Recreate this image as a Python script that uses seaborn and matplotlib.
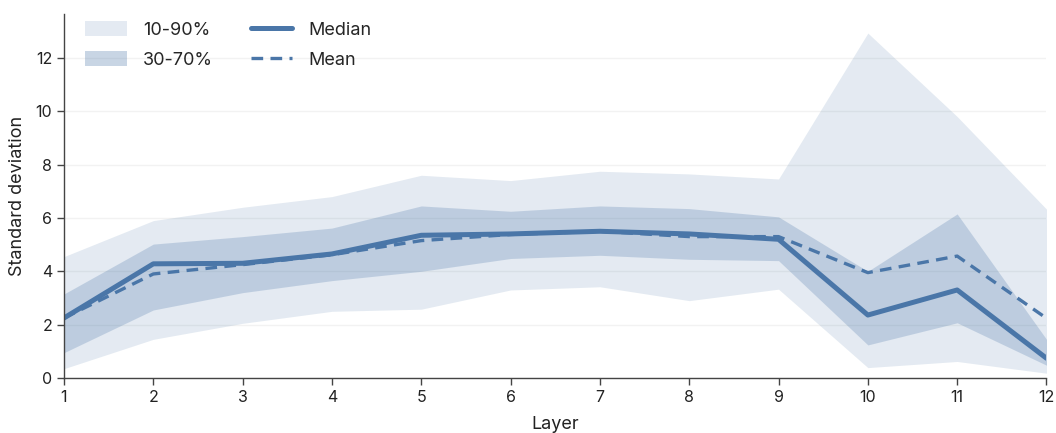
import matplotlib.pyplot as plt
import seaborn as sns
import pandas as pd
from matplotlib.patches import Patch
from matplotlib.lines import Line2D

# Values
layers = [1, 2, 3, 4, 5, 6, 7, 8, 9, 10, 11, 12]
p10 = [0.35, 1.45, 2.05, 2.50, 2.58, 3.30, 3.42, 2.90, 3.33, 0.39, 0.62, 0.18]
p30 = [0.95, 2.55, 3.20, 3.65, 4.00, 4.48, 4.60, 4.45, 4.40, 1.24, 2.07, 0.48]
median = [2.25, 4.28, 4.30, 4.65, 5.35, 5.40, 5.50, 5.40, 5.20, 2.36, 3.30, 0.74]
mean = [2.25, 3.90, 4.25, 4.62, 5.15, 5.38, 5.50, 5.30, 5.30, 3.95, 4.57, 2.24]
p70 = [3.15, 5.02, 5.30, 5.62, 6.45, 6.25, 6.45, 6.35, 6.04, 4.00, 6.15, 1.45]
p90 = [4.55, 5.90, 6.40, 6.80, 7.60, 7.40, 7.75, 7.65, 7.46, 12.93, 9.80, 6.33]

df = pd.DataFrame({"Layer": layers, "p10": p10, "p30": p30, "Median": median,
                   "Mean": mean, "p70": p70, "p90": p90})

sns.set_style("white")
plt.rcParams["font.family"] = ["Inter", "DejaVu Sans"]

blue = "#4a76a8"
fig = plt.figure(figsize=(10.56, 4.33), dpi=100)
ax = fig.add_axes([0.0606, 0.127, 0.9304, 0.841])

ax.fill_between(df["Layer"], df["p10"], df["p90"], color=blue, alpha=0.15, lw=0)
ax.fill_between(df["Layer"], df["p30"], df["p70"], color=blue, alpha=0.25, lw=0)
sns.lineplot(data=df, x="Layer", y="Median", color=blue, lw=3.6, ax=ax)
sns.lineplot(data=df, x="Layer", y="Mean", color=blue, lw=2.4, ax=ax,
             linestyle=(0, (3.5, 2.2)))

ax.set_xlim(1, 12)
ax.set_ylim(0, 13.65)
ax.set_xticks(layers)
ax.set_yticks([0, 2, 4, 6, 8, 10, 12])
ax.grid(axis="y", color="#f2f2f2", lw=1)
ax.set_axisbelow(True)
for s in ["top", "right"]:
    ax.spines[s].set_visible(False)
for s in ["left", "bottom"]:
    ax.spines[s].set_color("#444444")
    ax.spines[s].set_linewidth(1)
ax.tick_params(axis="both", which="major", direction="out", length=5, width=1,
               color="#444444", labelsize=11.5, labelcolor="#222222", bottom=True, left=True)
ax.set_xlabel("Layer", fontsize=13, color="#222222", labelpad=8)
ax.set_ylabel("Standard deviation", fontsize=13, color="#222222", labelpad=7)

handles = [
    Patch(facecolor=blue, alpha=0.15, lw=0, label="10-90%"),
    Patch(facecolor=blue, alpha=0.3, lw=0, label="30-70%"),
    Line2D([], [], color=blue, lw=3.6, label="Median"),
    Line2D([], [], color=blue, lw=2.4, linestyle=(0, (3.5, 2.2)), label="Mean"),
]
ax.legend(handles=handles, ncol=2, frameon=False, loc="upper left",
          fontsize=13, bbox_to_anchor=(0.005, 1.025), handlelength=2.3,
          handleheight=0.9, columnspacing=2.1, labelspacing=0.68, handletextpad=0.9)

fig.savefig("out.png", dpi=100)
